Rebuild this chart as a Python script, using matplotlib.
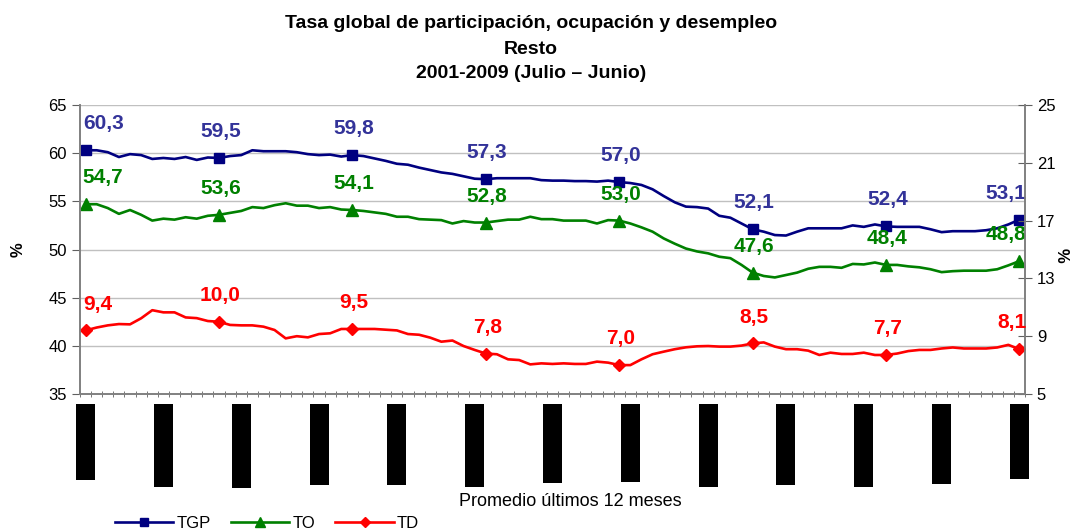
import numpy as np
import matplotlib
matplotlib.use('Agg')
import matplotlib.pyplot as plt
from matplotlib.ticker import FixedLocator, NullFormatter

plt.rcParams['font.family'] = ['Liberation Sans', 'DejaVu Sans']

# Promedios móviles de 12 meses (Jul01-Jun02 ... Jul08-Jun09)
tgp = [60.3, 60.3, 60.1, 59.6, 59.9, 59.8, 59.4, 59.5, 59.4, 59.6, 59.3, 59.55,
       59.5, 59.7, 59.8, 60.3, 60.2, 60.2, 60.2, 60.1, 59.9, 59.8, 59.85, 59.65,
       59.8, 59.7, 59.45, 59.2, 58.9, 58.8, 58.5, 58.25, 58.0, 57.85, 57.6, 57.35,
       57.3, 57.4, 57.4, 57.4, 57.4, 57.2, 57.15, 57.15, 57.1, 57.1, 57.05, 57.15,
       57.0, 56.9, 56.7, 56.25, 55.55, 54.9, 54.45, 54.4, 54.25, 53.5, 53.3, 52.7,
       52.1, 51.85, 51.5, 51.45, 51.85, 52.2, 52.2, 52.2, 52.2, 52.5, 52.35, 52.6,
       52.4, 52.35, 52.35, 52.35, 52.1, 51.8, 51.9, 51.9, 51.9, 52.0, 52.2, 52.6,
       53.1]
to = [54.7, 54.7, 54.3, 53.7, 54.1, 53.6, 53.0, 53.2, 53.1, 53.35, 53.2, 53.5,
      53.6, 53.8, 54.0, 54.4, 54.3, 54.6, 54.8, 54.55, 54.55, 54.3, 54.4, 54.15,
      54.1, 54.0, 53.85, 53.7, 53.4, 53.4, 53.15, 53.1, 53.05, 52.7, 52.95, 52.8,
      52.8, 52.95, 53.1, 53.1, 53.4, 53.15, 53.15, 53.0, 53.0, 53.0, 52.7, 53.05,
      53.0, 52.7, 52.3, 51.85, 51.15, 50.6, 50.1, 49.8, 49.6, 49.25, 49.1, 48.4,
      47.6, 47.25, 47.1, 47.35, 47.6, 48.0, 48.2, 48.2, 48.1, 48.5, 48.45, 48.65,
      48.4, 48.4, 48.25, 48.15, 47.95, 47.65, 47.75, 47.8, 47.8, 47.8, 47.95, 48.35,
      48.8]
td = [9.4, 9.6, 9.75, 9.84, 9.82, 10.24, 10.8, 10.65, 10.65, 10.3, 10.25, 10.05,
      10.0, 9.78, 9.75, 9.75, 9.66, 9.43, 8.85, 9.0, 8.92, 9.15, 9.2, 9.5,
      9.5, 9.5, 9.5, 9.45, 9.4, 9.15, 9.1, 8.9, 8.62, 8.7, 8.32, 8.05,
      7.8, 7.75, 7.4, 7.35, 7.05, 7.12, 7.08, 7.12, 7.08, 7.08, 7.24, 7.17,
      7.0, 7.0, 7.4, 7.75, 7.93, 8.1, 8.23, 8.3, 8.32, 8.28, 8.28, 8.35,
      8.5, 8.57, 8.28, 8.1, 8.1, 8.0, 7.7, 7.86, 7.77, 7.77, 7.86, 7.7,
      7.7, 7.8, 7.97, 8.05, 8.05, 8.15, 8.22, 8.15, 8.15, 8.15, 8.22, 8.4,
      8.1]

periodos = ['Jul01-Jun02', 'Feb02-Ene03', 'Sep02-Ago03', 'Abr03-Mar04',
            'Nov03-Oct04', 'Jun04-May05', 'Ene05-Dic05', 'Ago05-Jul06',
            'Mar06-Feb07', 'Oct06-Sep07', 'May07-Abr08', 'Dic07-Nov08',
            'Jul08-Jun09']

x = np.arange(len(tgp))
cada = 12  # marcador y etiqueta una vez al año

fig = plt.figure(figsize=(10.73, 5.31), dpi=100)
ax = fig.add_axes([80/1073, 1-394/531, 945/1073, 289/531])
ax2 = ax.twinx()

l1, = ax.plot(x, tgp, color='#000080', lw=1.9, marker='s', ms=7, markevery=cada)
l2, = ax.plot(x, to, color='#008000', lw=1.9, marker='^', ms=8, markevery=cada)
l3, = ax2.plot(x, td, color='#ff0000', lw=1.9, marker='D', ms=6, markevery=cada)

def etiquetas(axis, serie, color):
    idx = list(range(0, len(serie), cada))
    for i in idx:
        txt = f'{serie[i]:.1f}'.replace('.', ',')
        if i == idx[0]:
            ha, dx = 'left', -2
        elif i == idx[-1]:
            ha, dx = 'right', 5
        else:
            ha, dx = 'center', 1
        axis.annotate(txt, (i, serie[i]), xytext=(dx, 19), textcoords='offset points',
                      ha=ha, va='center', color=color, fontsize=15, fontweight='bold')

etiquetas(ax, tgp, '#333399')
etiquetas(ax, to, '#008000')
etiquetas(ax2, td, '#ff0000')

ax.set_xlim(-0.5, len(tgp) - 0.5)
ax.set_ylim(35, 65)
ax.set_yticks(range(35, 66, 5))
ax2.set_ylim(5, 25)
ax2.set_yticks(range(5, 26, 4))

ax.yaxis.grid(True, color='#c0c0c0', lw=1)
ax.set_axisbelow(True)

# ticks mensuales en los bordes de cada categoría, etiquetas cada 7 meses
ax.xaxis.set_minor_locator(FixedLocator(np.arange(-0.5, len(tgp), 1)))
ax.xaxis.set_minor_formatter(NullFormatter())
ax.set_xticks(range(0, len(tgp), 7))
ax.set_xticklabels(periodos, rotation=90, fontsize=9, color='black',
                   bbox=dict(facecolor='black', edgecolor='none', pad=2.5))
ax.tick_params(axis='x', which='major', length=0, pad=10)
ax.tick_params(axis='x', which='minor', length=5, direction='inout', color='#606060')
ax.tick_params(axis='y', labelsize=12, length=6, direction='out', color='#606060')
ax2.tick_params(axis='y', labelsize=12, length=10, direction='inout', color='#606060')

for a in (ax, ax2):
    a.spines['top'].set_visible(False)
    for s in ('left', 'right', 'bottom'):
        a.spines[s].set_color('#808080')
        a.spines[s].set_linewidth(1.2)

ax.set_ylabel('%', fontsize=12, fontweight='bold')
ax.yaxis.set_label_coords(-54/945, 0.5)
ax2.set_ylabel('%', fontsize=12, fontweight='bold', rotation=-90, va='center')
ax2.yaxis.set_label_coords(1 + 36/945, 0.48)

fig.text(531/1073, 1-24/531, 'Tasa global de participación, ocupación y desempleo',
         ha='center', va='center', fontsize=14, fontweight='bold')
fig.text(531/1073, 1-49/531, 'Resto', ha='center', va='center', fontsize=14, fontweight='bold')
fig.text(531/1073, 1-74/531, '2001-2009 (Julio – Junio)', ha='center', va='center',
         fontsize=14, fontweight='bold')

fig.text(570/1073, 1-502/531, 'Promedio últimos 12 meses', ha='center', va='center', fontsize=13)

fig.legend([l1, l2, l3], ['TGP', 'TO', 'TD'], loc='center left',
           bbox_to_anchor=(100/1073, 1-523/531), ncol=3, frameon=False, fontsize=12,
           handlelength=3.5, handletextpad=0.2, columnspacing=1.2, markerscale=0.85)

fig.savefig('out.png', dpi=100)
